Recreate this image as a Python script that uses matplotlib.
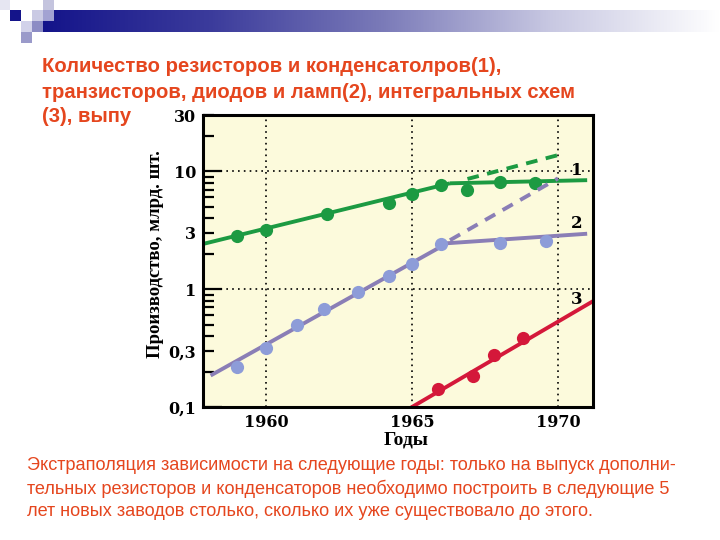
import numpy as np
import matplotlib.pyplot as plt
from matplotlib.patches import Rectangle
from matplotlib.colors import LinearSegmentedColormap
from matplotlib.ticker import FixedLocator, FuncFormatter

plt.rcParams['font.family'] = ['Liberation Serif', 'DejaVu Serif']
plt.rcParams['font.weight'] = 'bold'

# (1) resistors and capacitors
years_1 = [1959, 1960, 1962.1, 1964.2, 1965, 1966, 1966.9, 1968, 1969.2]
vals_1 = [2.8, 3.2, 4.3, 5.4, 6.4, 7.7, 7.0, 8.1, 8.0]
trend_1_years, trend_1_vals = [1957.85, 1966.3], [2.42, 7.9]
sat_1_years, sat_1_vals = [1966.3, 1971.0], [7.9, 8.4]
extra_1_years, extra_1_vals = [1966.9, 1970.0], [8.6, 13.7]

# (2) transistors, diodes, tubes
years_2 = [1959, 1960, 1961.05, 1962, 1963.15, 1964.2, 1965, 1966, 1968, 1969.6]
vals_2 = [0.22, 0.315, 0.50, 0.68, 0.94, 1.29, 1.63, 2.42, 2.46, 2.56]
trend_2_years, trend_2_vals = [1958.1, 1966.2], [0.185, 2.45]
sat_2_years, sat_2_vals = [1966.2, 1971.0], [2.45, 2.95]
extra_2_years, extra_2_vals = [1966.3, 1970.0], [2.6, 8.7]

# (3) integrated circuits
years_3 = [1965.9, 1967.1, 1967.8, 1968.8]
vals_3 = [0.141, 0.182, 0.274, 0.383]
trend_3_years, trend_3_vals = [1965.0, 1971.2], [0.1, 0.79]

curve_labels = ['1', '2', '3']
curve_label_vals = [10.1, 3.57, 0.82]

y_major = [0.1, 1, 10]
y_labels = {0.1: '0,1', 0.3: '0,3', 1: '1', 3: '3', 10: '10', 30: '30'}
x_years = [1960, 1965, 1970]

title_lines = ['Количество резисторов и конденсатолров(1),',
               'транзисторов, диодов и ламп(2), интегральных схем',
               '(3), выпу']
note_lines = ['Экстраполяция зависимости на следующие годы: только на выпуск дополни-',
              'тельных резисторов и конденсаторов необходимо построить в следующие 5',
              'лет новых заводов столько, сколько их уже существовало до этого.']

green = '#1C9A42'
purple_line = '#8A7EB6'
purple_pts = '#8D9CD8'
red = '#D4183A'
txt_red = '#E5461E'
num_font = 'DejaVu Serif'

W, H = 720, 540
fig = plt.figure(figsize=(7.2, 5.4), dpi=100)

def px(x, y, w, h):
    return [x / W, 1 - (y + h) / H, w / W, h / H]

# slide decoration: gradient bar + squares
bar = fig.add_axes(px(43, 10, 677, 22))
cmap = LinearSegmentedColormap.from_list('bar', ['#14148A', '#3C3C9C', '#7A7AB8', '#C8C8E2', '#FFFFFF'])
bar.imshow(np.linspace(0, 1, 256)[None, :], aspect='auto', cmap=cmap)
bar.axis('off')

squares = [((0, 0, 10, 10), '#E6E6F2'), ((10, 10, 11, 11), '#14148A'),
           ((32, 10, 11, 11), '#CACAE4'), ((43, 0, 11, 10), '#C4C4DE'),
           ((43, 10, 11, 11), '#A2A2D2'), ((21, 21, 11, 11), '#D2D2EA'),
           ((32, 21, 11, 11), '#8C8CC4'), ((21, 32, 11, 11), '#9A9ACA')]
for (x, y, w, h), c in squares:
    l, b, ww, hh = px(x, y, w, h)
    fig.add_artist(Rectangle((l, b), ww, hh, transform=fig.transFigure, color=c, lw=0))

# title, one text per line
for i, line in enumerate(title_lines):
    fig.text(42 / W, 1 - (67 + 25 * i) / H, line, family='Liberation Sans',
             weight='bold', fontsize=14.6, color=txt_red, va='center', ha='left')

# note below the chart
for i, line in enumerate(note_lines):
    fig.text(27 / W, 1 - (466 + 23 * i) / H, line, family='Liberation Sans',
             weight='normal', fontsize=13.1, color=txt_red, va='center', ha='left')

# chart
ax = fig.add_axes(px(203, 115, 390, 292))
ax.set_facecolor('#FCFADC')
ax.set_yscale('log')
ax.set_xlim(1957.84, 1971.2)
ax.set_ylim(0.1, 30)

ax.plot(trend_1_years, trend_1_vals, color=green, lw=2.8, solid_capstyle='butt')
ax.plot(sat_1_years, sat_1_vals, color=green, lw=2.8, solid_capstyle='butt')
ax.plot(extra_1_years, extra_1_vals, color=green, lw=2.8, dashes=(3, 2.2))
ax.plot(years_1, vals_1, 'o', color=green, ms=9.5, mec='none')

ax.plot(trend_2_years, trend_2_vals, color=purple_line, lw=2.8, solid_capstyle='butt')
ax.plot(sat_2_years, sat_2_vals, color=purple_line, lw=2.8, solid_capstyle='butt')
ax.plot(extra_2_years, extra_2_vals, color=purple_line, lw=2.8, dashes=(3, 2.2))
ax.plot(years_2, vals_2, 'o', color=purple_pts, ms=9.5, mec='none')

ax.plot(trend_3_years, trend_3_vals, color=red, lw=2.8)
ax.plot(years_3, vals_3, 'o', color=red, ms=9.5, mec='none')

for lab, v in zip(curve_labels, curve_label_vals):
    ax.text(1970.65, v, lab, family=num_font, fontsize=12, ha='center', va='center')

ax.xaxis.set_major_locator(FixedLocator(x_years))
ax.yaxis.set_major_locator(FixedLocator(y_major))
minor = [m * d for d in [0.1, 1, 10] for m in range(2, 10) if m * d <= 30]
ax.yaxis.set_minor_locator(FixedLocator(minor))
fmt = FuncFormatter(lambda v, p: y_labels.get(round(v, 3), ''))
ax.yaxis.set_major_formatter(fmt)
ax.yaxis.set_minor_formatter(fmt)

ax.grid(True, which='major', color='black', ls=(0, (1, 2.5)), lw=1.2)
ax.tick_params(axis='x', length=0, pad=5, labelsize=11.5)
ax.tick_params(axis='y', which='major', direction='in', length=14, width=1.6, pad=5, labelsize=11.5)
ax.tick_params(axis='y', which='minor', direction='in', length=8, width=1.6, pad=5, labelsize=11.5)
for lbl in ax.get_xticklabels() + ax.get_yticklabels(which='both'):
    lbl.set_family(num_font)

for s in ax.spines.values():
    s.set_linewidth(2.2)

ax.set_xlabel('Годы', fontsize=14, fontweight='bold')
ax.xaxis.set_label_coords(0.52, -0.085)
ax.set_ylabel('Производство, млрд. шт.', fontsize=13.5, fontweight='bold')
ax.yaxis.set_label_coords(-0.10, 0.524)

fig.savefig('out.png', dpi=100)
